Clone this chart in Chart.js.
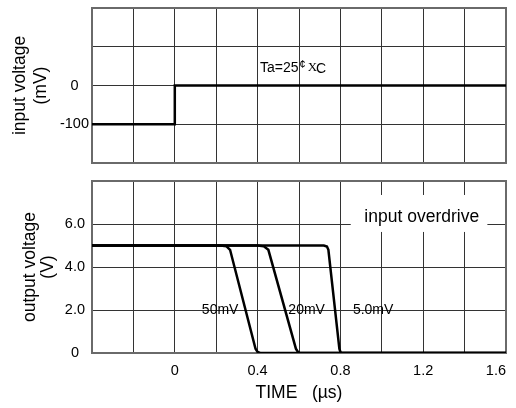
<!DOCTYPE html>
<html><head><meta charset="utf-8">
<script src="https://cdn.jsdelivr.net/npm/chart.js@4/dist/chart.umd.min.js"></script>
<style>
html,body{margin:0;padding:0;background:#fff;}
#wrap{position:relative;width:516px;height:408px;}
canvas{position:absolute;left:0;}
#c1{top:0;}
#c2{top:170px;}
</style></head><body>
<div id="wrap">
<canvas id="c1" width="516" height="170" style="width:516px;height:170px"></canvas>
<canvas id="c2" width="516" height="238" style="width:516px;height:238px"></canvas>
</div>
<script>
// ---------- data ----------
const inputTime = [-0.4, 0, 0, 1.6];
const inputMv   = [-100, -100, 0, 0];

const time50 = [-0.4, 0.22, 0.25, 0.267, 0.39, 0.40, 0.412, 1.6];
const out50  = [5.0, 5.0, 4.96, 4.8, 0.2, 0.05, 0, 0];
const time20 = [-0.4, 0.40, 0.43, 0.452, 0.585, 0.595, 0.605, 1.6];
const out20  = [5.0, 5.0, 4.96, 4.8, 0.2, 0.05, 0, 0];
const time5  = [-0.4, 0.72, 0.735, 0.742, 0.795, 0.80, 0.807, 1.6];
const out5   = [5.0, 5.0, 4.95, 4.8, 0.2, 0.05, 0, 0];

const seriesNames = ['50mV', '20mV', '5.0mV'];

const xGridValues = [-0.4, -0.2, 0, 0.2, 0.4, 0.6, 0.8, 1.0, 1.2, 1.4, 1.6];
const xTickValues = [0, 0.4, 0.8, 1.2, 1.6];
const xTickLabels = ['0', '0.4', '0.8', '1.2', '1.6'];

const yTopGridValues = [-200, -100, 0, 100, 200];
const yTopTickValues = [-100, 0];
const yTopTickLabels = ['-100', '0'];

const yBotGridValues = [0, 2, 4, 6, 8];
const yBotTickValues = [0, 2, 4, 6];
const yBotTickLabels = ['0', '2.0', '4.0', '6.0'];

// ---------- helpers ----------
const pts = (xs, ys) => xs.map((x, i) => ({x: x, y: ys[i]}));
const FONT = "'Liberation Sans', Arial, Helvetica, sans-serif";
Chart.defaults.font.family = FONT;
Chart.defaults.color = '#000';

function fixedTicks(values) {
  return function (scale) { scale.ticks = values.map(v => ({value: v})); };
}
function labeler(values, labels) {
  return function (v) { const i = values.indexOf(v); return i >= 0 ? labels[i] : ''; };
}
function noPad(scale) {
  scale.paddingTop = 0; scale.paddingBottom = 0; scale.paddingLeft = 0; scale.paddingRight = 0;
}

const frame = {
  id: 'frame',
  beforeDatasetsDraw(chart) {
    const {ctx, chartArea: a} = chart;
    ctx.save();
    ctx.strokeStyle = '#6a6a6a';
    ctx.lineWidth = 2;
    ctx.strokeRect(a.left, a.top, a.right - a.left, a.bottom - a.top);
    ctx.restore();
  }
};

const gridStyle = {color: '#333', lineWidth: 1, drawTicks: false};

const lineDs = (data) => ({
  data: data, showLine: true, borderColor: '#000', backgroundColor: '#000',
  borderWidth: 2.5, pointRadius: 0, tension: 0, fill: false
});

// ---------- top panel ----------
const tempNote = {x: 0.412, y: 46};
const topNotes = {
  id: 'topNotes',
  beforeDatasetsDraw(chart) {
    const {ctx, scales: {x, y}} = chart;
    const px = x.getPixelForValue(tempNote.x), py = y.getPixelForValue(tempNote.y);
    ctx.save();
    ctx.fillStyle = '#000';
    ctx.textBaseline = 'middle';
    ctx.textAlign = 'left';
    ctx.font = '14px ' + FONT;
    ctx.fillText('Ta=25', px, py);
    let w = ctx.measureText('Ta=25').width;
    ctx.font = '11px ' + FONT;
    ctx.fillText('¢', px + w + 1, py - 3);
    w += ctx.measureText('¢').width + 3;
    ctx.font = '13px "Liberation Serif", serif';
    ctx.fillText('X', px + w, py);
    w += ctx.measureText('X').width - 1;
    ctx.font = '14px ' + FONT;
    ctx.fillText('C', px + w, py + 1);
    ctx.restore();
  }
};

new Chart(document.getElementById('c1'), {
  type: 'scatter',
  data: {datasets: [lineDs(pts(inputTime, inputMv))]},
  options: {
    responsive: false, animation: false, devicePixelRatio: 1,
    layout: {padding: {left: 0, right: 10, top: 8, bottom: 7}},
    plugins: {legend: {display: false}, tooltip: {enabled: false}},
    scales: {
      x: {
        type: 'linear', min: -0.4, max: 1.6,
        afterBuildTicks: fixedTicks(xGridValues),
        ticks: {display: false},
        grid: gridStyle, border: {display: false},
        afterFit: (s) => { s.height = 0; noPad(s); }
      },
      y: {
        type: 'linear', min: -200, max: 200,
        afterBuildTicks: fixedTicks(yTopGridValues),
        ticks: {callback: labeler(yTopTickValues, yTopTickLabels), font: {size: 14.5}, padding: 3, crossAlign: 'center', autoSkip: false},
        grid: gridStyle, border: {display: false},
        title: {display: true, text: ['input voltage', '(mV)'], font: {size: 17.5, lineHeight: 1.2}, padding: {top: 10, bottom: 0}},
        afterFit: (s) => { s.width = 92; noPad(s); }
      }
    }
  },
  plugins: [frame, topNotes]
});

// ---------- bottom panel ----------
const overdriveBox = {x0: 0.85, x1: 1.51, y0: 5.63, y1: 7.35, tx: 1.193, ty: 6.34};
const curveLabelPos = [{x: 0.219, y: 2.0}, {x: 0.637, y: 2.0}, {x: 0.958, y: 2.0}];
const botNotes = {
  id: 'botNotes',
  beforeDatasetsDraw(chart) {
    const {ctx, scales: {x, y}} = chart;
    ctx.save();
    const bx0 = x.getPixelForValue(overdriveBox.x0), bx1 = x.getPixelForValue(overdriveBox.x1);
    const by0 = y.getPixelForValue(overdriveBox.y1), by1 = y.getPixelForValue(overdriveBox.y0);
    ctx.fillStyle = '#fff';
    ctx.fillRect(bx0, by0, bx1 - bx0, by1 - by0);
    ctx.fillStyle = '#000';
    ctx.textAlign = 'center';
    ctx.textBaseline = 'middle';
    ctx.font = '17.5px ' + FONT;
    ctx.fillText('input overdrive', x.getPixelForValue(overdriveBox.tx), y.getPixelForValue(overdriveBox.ty));
    ctx.font = '14px ' + FONT;
    curveLabelPos.forEach((p, i) => {
      ctx.fillText(seriesNames[i], x.getPixelForValue(p.x), y.getPixelForValue(p.y));
    });
    ctx.restore();
  }
};

new Chart(document.getElementById('c2'), {
  type: 'scatter',
  data: {datasets: [
    lineDs(pts(time50, out50)),
    lineDs(pts(time20, out20)),
    lineDs(pts(time5, out5))
  ]},
  options: {
    responsive: false, animation: false, devicePixelRatio: 1,
    layout: {padding: {left: 0, right: 10, top: 11, bottom: 4}},
    plugins: {legend: {display: false}, tooltip: {enabled: false}},
    scales: {
      x: {
        type: 'linear', min: -0.4, max: 1.6,
        afterBuildTicks: fixedTicks(xGridValues),
        ticks: {callback: labeler(xTickValues, xTickLabels), font: {size: 14.5}, padding: 9, align: 'inner', autoSkip: false, maxRotation: 0, minRotation: 0},
        grid: gridStyle, border: {display: false},
        title: {display: true, text: 'TIME   (µs)', font: {size: 17.5, lineHeight: 1.2}, padding: {top: 0, bottom: 0}},
        afterFit: (s) => { s.height = 51; noPad(s); }
      },
      y: {
        type: 'linear', min: 0, max: 8,
        afterBuildTicks: fixedTicks(yBotGridValues),
        ticks: {callback: labeler(yBotTickValues, yBotTickLabels), font: {size: 14.5}, padding: 7, crossAlign: 'center', autoSkip: false},
        grid: gridStyle, border: {display: false},
        title: {display: true, text: ['output voltage', '(V)'], font: {size: 17.5, lineHeight: 1.05}, padding: {top: 21, bottom: 0}},
        afterFit: (s) => { s.width = 92; noPad(s); }
      }
    }
  },
  plugins: [frame, botNotes]
});
</script>
</body></html>
